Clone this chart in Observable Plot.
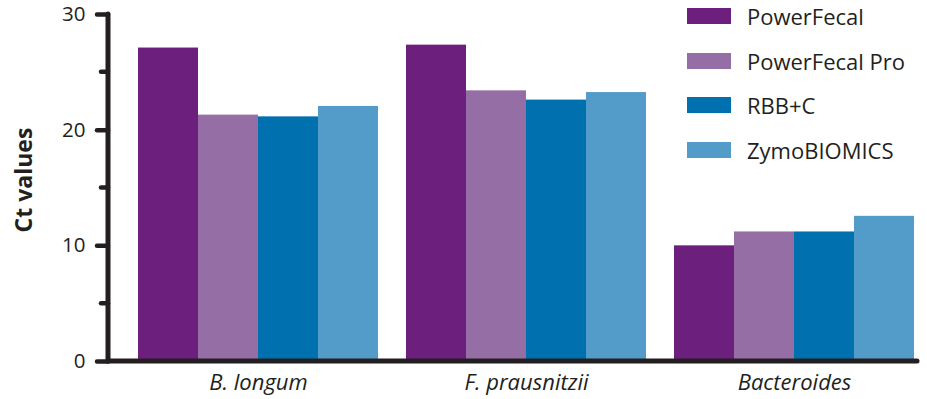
<!DOCTYPE html>
<html><head><meta charset="utf-8">
<script src="https://cdn.jsdelivr.net/npm/d3@7"></script>
<script src="https://cdn.jsdelivr.net/npm/@observablehq/plot@0.6"></script>
<style>
body{margin:0;background:#fff}
#wrap{position:relative;width:927px;height:399px;font-family:"Open Sans",sans-serif;color:#231f20;overflow:hidden}
#wrap svg{position:absolute;left:0;top:0}
#wrap svg [aria-label^="fx-axis"] text{font-style:italic;font-size:22px}
#wrap svg [aria-label^="y-axis"] line,
#wrap svg [aria-label="y-axis tick"] path{stroke:#231f20;stroke-width:4.5px;stroke-linecap:round}
#ylabel{position:absolute;left:23px;top:180px;transform:translate(-50%,-50%) rotate(-90deg);font-weight:700;font-size:23px;white-space:nowrap}
.leg{position:absolute;left:687px;height:16px;display:flex;align-items:center;white-space:nowrap}
.leg span.sw{display:inline-block;width:44px;height:16px;margin-right:16px}
.leg span.tx{font-size:22px;line-height:16px}
</style></head><body><div id="wrap"></div>
<script>
const categories = ["B. longum", "F. prausnitzii", "Bacteroides"];
const series = ["PowerFecal", "PowerFecal Pro", "RBB+C", "ZymoBIOMICS"];
const colors = ["#6c1f7c", "#966ea6", "#0071ae", "#539cc9"];
const powerFecal = [27.1, 27.35, 10.0];
const powerFecalPro = [21.3, 23.4, 11.2];
const rbbC = [21.15, 22.6, 11.2];
const zymoBiomics = [22.05, 23.25, 12.55];
const yTicks = [0, 10, 20, 30];
const yMinorTicks = [5, 15, 25];
const yLabel = "Ct values";

const valuesBySeries = [powerFecal, powerFecalPro, rbbC, zymoBiomics];
const data = [];
categories.forEach((c, ci) => series.forEach((s, si) => data.push({category: c, series: s, value: valuesBySeries[si][ci]})));

const W = 927, H = 399, mL = 108, mR = 9, mT = 14, mB = 38;
const plot = Plot.plot({
  width: W, height: H,
  marginTop: mT, marginBottom: mB, marginLeft: mL, marginRight: mR,
  style: {fontFamily: "Open Sans, sans-serif", fontSize: "20.5px", color: "#231f20", background: "transparent", overflow: "visible"},
  facet: {data, x: "category"},
  fx: {domain: categories, axis: "bottom", label: null, tickSize: 0, tickPadding: 13,
       paddingInner: 0.1045, paddingOuter: 0.0634, align: 0.88},
  x: {domain: series, axis: null, paddingInner: 0, paddingOuter: 0},
  y: {domain: [0, 30], ticks: yTicks, tickSize: 11, tickPadding: 12, label: null, line: false},
  color: {domain: series, range: colors},
  marks: [
    Plot.barY(data, {x: "series", y: "value", fill: "series"})
  ]
});
const wrap = document.getElementById("wrap");
wrap.appendChild(plot);

const y = plot.scale("y");
const fx = plot.scale("fx");
const svg = d3.select(plot);

// The y axis is anchored to the first facet; move it onto the frame's left edge.
const shift = fx.apply(categories[0]) - mL;
svg.selectAll('[aria-label^="y-axis"]').each(function () {
  const t = this.getAttribute("transform") || "";
  this.setAttribute("transform", `translate(${-shift},0) ${t}`);
});

const g = svg.append("g").attr("stroke", "#231f20").attr("stroke-linecap", "round");
g.selectAll("line.minor").data(yMinorTicks).join("line")
  .attr("x1", mL - 7).attr("x2", mL).attr("y1", d => y.apply(d)).attr("y2", d => y.apply(d))
  .attr("stroke-width", 4.5);
g.append("line").attr("x1", mL).attr("x2", mL).attr("y1", y.apply(30)).attr("y2", y.apply(0)).attr("stroke-width", 5);
g.append("line").attr("x1", mL).attr("x2", W - mR - 1).attr("y1", y.apply(0)).attr("y2", y.apply(0)).attr("stroke-width", 5);

const lab = document.createElement("div");
lab.id = "ylabel"; lab.textContent = yLabel;
wrap.appendChild(lab);

const legTops = [8, 53, 97, 142];
series.forEach((s, i) => {
  const d = document.createElement("div");
  d.className = "leg";
  d.style.top = legTops[i] + "px";
  d.innerHTML = `<span class="sw" style="background:${colors[i]}"></span><span class="tx"></span>`;
  d.querySelector(".tx").textContent = s;
  wrap.appendChild(d);
});
</script>
</body></html>
